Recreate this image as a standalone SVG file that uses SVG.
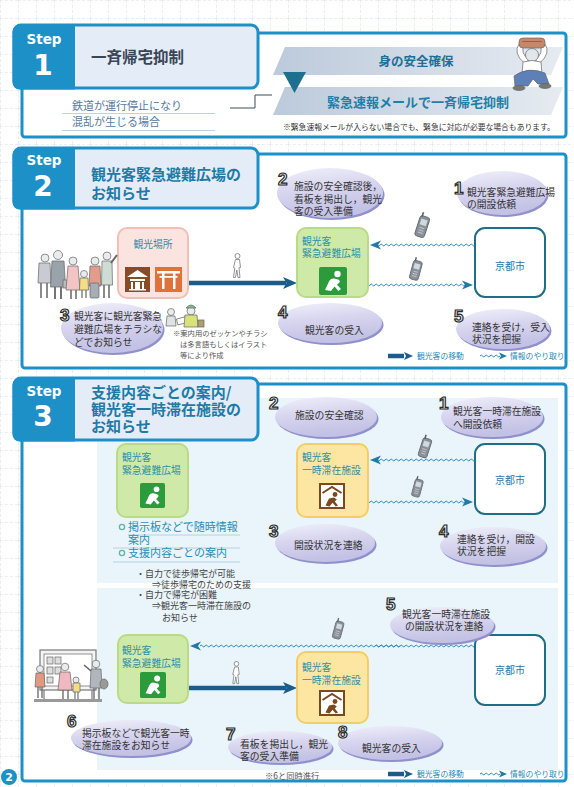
<svg xmlns="http://www.w3.org/2000/svg" xmlns:xlink="http://www.w3.org/1999/xlink" width="574" height="787" viewBox="0 0 574 787">
<defs>
<style>
.ttl{font-family:"Noto Sans CJK JP","Noto Sans",sans-serif;font-weight:bold;font-size:15px;fill:#1f7aa6}
.bt{font-family:"Noto Sans CJK JP",sans-serif;font-size:9.8px;fill:#333}
.num{font-family:"Liberation Sans",Arial,sans-serif;font-weight:bold;font-size:17px;fill:#f4f4f4;stroke:#2a2a2a;stroke-width:1.2px}
.stepw{font-family:"DejaVu Sans",sans-serif;font-weight:bold;fill:#fff}
.panel{fill:#fff;stroke:#1e90c8;stroke-width:3}
.hdr{fill:#e4edf7;stroke:#1e90c8;stroke-width:3}
.hdk{fill:#1e90c8}
.boxt{font-family:"Noto Sans CJK JP",sans-serif;font-size:9.8px;fill:#2a8fa8}
.kyoto{fill:#fff;stroke:#1e6e88;stroke-width:2}
.kyt{font-family:"Noto Sans CJK JP",sans-serif;font-size:10px;fill:#1f7aa6;text-anchor:middle}
.green{fill:#cfe9a8;stroke:#b9db84;stroke-width:2}
.yellow{fill:#fde6a2;stroke:#f4cd6a;stroke-width:2}
.wave{fill:none;stroke:#2a8ab8;stroke-width:1}
.whd{fill:#1f7aa6}
.move{stroke:#1a5c8c;stroke-width:4.5;fill:none}
.mhd{fill:#1a5c8c}
.bsh{fill:#9090cc}
.bub{fill:url(#bubG)}
.leg{font-family:"Noto Sans CJK JP",sans-serif;font-size:7.8px;fill:#2a8ab8}
.small{font-family:"Noto Sans CJK JP",sans-serif;font-size:9px;fill:#444}
.note{font-family:"Noto Sans CJK JP",sans-serif;font-size:7.3px;fill:#555}
.list{font-family:"Noto Sans CJK JP",sans-serif;font-size:11px;fill:#2a8fb5}
.ul{stroke:#a9c9da;stroke-width:0.8}
.lb{fill:#e9f4fb}
.ill{stroke:#666;stroke-width:0.7}
</style>
<pattern id="grid" width="18" height="18" patternUnits="userSpaceOnUse">
<path d="M0,0.5 H18 M0.5,0 V18" stroke="#e3e7ec" stroke-width="0.7" stroke-dasharray="3,2" fill="none"/>
</pattern>
<linearGradient id="bubG" x1="0" y1="0" x2="0.25" y2="1">
<stop offset="0" stop-color="#f1f0fa"/>
<stop offset="0.5" stop-color="#d6d4ee"/>
<stop offset="1" stop-color="#c3c1e4"/>
</linearGradient>
<linearGradient id="banG" x1="0" y1="0" x2="1" y2="0">
<stop offset="0" stop-color="#bccadb"/>
<stop offset="1" stop-color="#e6ebf1"/>
</linearGradient>
<!-- 100px wavy line used for information exchange -->
<path id="wave" class="wave" d="M0,0 q1.25,-1.8 2.5,0 t2.5,0 t2.5,0 t2.5,0 t2.5,0 t2.5,0 t2.5,0 t2.5,0 t2.5,0 t2.5,0 t2.5,0 t2.5,0 t2.5,0 t2.5,0 t2.5,0 t2.5,0 t2.5,0 t2.5,0 t2.5,0 t2.5,0 t2.5,0 t2.5,0 t2.5,0 t2.5,0 t2.5,0 t2.5,0 t2.5,0 t2.5,0 t2.5,0 t2.5,0 t2.5,0 t2.5,0 t2.5,0 t2.5,0 t2.5,0 t2.5,0 t2.5,0 t2.5,0 t2.5,0 t2.5,0"/>
<path id="wave20" class="wave" d="M0,0 q1.25,-1.8 2.5,0 t2.5,0 t2.5,0 t2.5,0 t2.5,0 t2.5,0 t2.5,0 t2.5,0"/>
<!-- arrowheads: wavy points left at origin, move points right at origin -->
<path id="whead" class="whd" d="M0,0 L11,-4.5 L8,0 L11,4.5 Z"/>
<path id="mhead" class="mhd" d="M0,0 L-14,-6 L-10.5,0 L-14,6 Z"/>
<symbol id="sit" viewBox="0 0 28 28">
<rect width="28" height="28" rx="2" fill="#2c9b3c"/>
<circle cx="18.5" cy="7" r="3.2" fill="#fff"/>
<path d="M6,23 L10.5,13.5 Q12,11 15,11.5 L19,12.5 Q21.5,13.5 20.5,15.5 L18,17.8 L22,22 L19.5,24 L15.5,19.5 L12,24 Z" fill="#fff"/>
</symbol>
<symbol id="shelter" viewBox="0 0 26 26">
<rect x="1" y="1" width="24" height="24" fill="#fff" stroke="#7a4a1e" stroke-width="2"/>
<path d="M3.5,10 L13,4 L22.5,10" stroke="#7a4a1e" stroke-width="2" fill="none"/>
<circle cx="16" cy="11.5" r="2.4" fill="#7a4a1e"/>
<path d="M6.5,22.5 L10,15.5 L15,14.5 L17.8,16.5 L15.8,18.5 L19,22.5 L16.8,23.5 L13.5,19.8 L10.5,23.5 Z" fill="#7a4a1e"/>
</symbol>
<symbol id="phone" viewBox="0 0 12 26">
<rect x="1" y="4" width="10" height="21" rx="2.5" fill="#8a9098" stroke="#5a5f66" stroke-width="0.8"/>
<rect x="2.8" y="7" width="6.4" height="6" fill="#cfd9e0"/>
<rect x="2" y="0.5" width="1.6" height="4.5" fill="#5a5f66"/>
<path d="M3.5,16 h5 M3.5,18.5 h5 M3.5,21 h5" stroke="#c0c5ca" stroke-width="1"/>
</symbol>
<symbol id="walker" viewBox="0 0 12 26">
<circle cx="6.5" cy="3" r="2.5" fill="#fff" stroke="#777" stroke-width="0.8"/>
<path d="M4.5,6.5 L8.5,6.5 L9.5,14.5 L8,14.8 L9,24.5 L7,24.5 L5.8,17 L4.5,24.5 L2.5,24.5 L3.8,15 L2.5,14.5 Z" fill="#fff" stroke="#777" stroke-width="0.8"/>
</symbol>
</defs>

<!-- page background with faint grid -->
<rect width="574" height="787" fill="#fff"/>
<rect width="574" height="787" fill="url(#grid)"/>

<!-- ================= STEP 1 ================= -->
<g id="step1">
<rect class="panel" x="22" y="33" width="544" height="104" rx="3"/>
<g id="step1-header">
<rect class="hdr" x="14" y="25" width="244" height="63" rx="7"/>
<path class="hdk" d="M12.5,32 a7,7 0 0 1 7,-7 H75 V89.5 H19.5 a7,7 0 0 1 -7,-7 Z"/>
<text class="stepw" x="44" y="44" font-size="13.5" text-anchor="middle">Step</text>
<text class="stepw" x="43" y="75" font-size="28" text-anchor="middle">1</text>
<text x="91" y="63" font-family="Noto Sans CJK JP, sans-serif" font-weight="bold" font-size="15.5" fill="#3a4656">一斉帰宅抑制</text>
</g>
<g id="step1-condition">
<text x="72" y="110" font-family="Noto Sans CJK JP, sans-serif" font-size="11" fill="#557aa0">鉄道が運行停止になり</text>
<text x="72" y="126" font-family="Noto Sans CJK JP, sans-serif" font-size="11" fill="#557aa0">混乱が生じる場合</text>
<line class="ul" x1="62" y1="113.5" x2="215" y2="113.5"/>
<line class="ul" x1="62" y1="130.5" x2="215" y2="130.5"/>
</g>
<g id="step1-safety">
<polygon points="285,47 563,47 551,75 273,75" fill="url(#banG)"/>
<text x="416" y="66" text-anchor="middle" font-family="Noto Sans CJK JP, sans-serif" font-weight="bold" font-size="12.5" fill="#1f6f96">身の安全確保</text>
</g>
<g id="step1-mail">
<polygon points="285,87 563,87 551,115 273,115" fill="url(#banG)"/>
<text x="418" y="107" text-anchor="middle" font-family="Noto Sans CJK JP, sans-serif" font-weight="bold" font-size="13" fill="#1f7fa8">緊急速報メールで一斉帰宅抑制</text>
</g>
<polygon id="step1-down" points="283,72 306,72 294.5,93" fill="#1d6f8e"/>
<text x="283" y="130" font-family="Noto Sans CJK JP, sans-serif" font-size="7.8" fill="#333">※緊急速報メールが入らない場合でも、緊急に対応が必要な場合もあります。</text>
<!-- crouching person protecting head -->
<g id="step1-person" class="ill">
<path d="M524,63 Q513,53 519,44 L524,45 Q520,53 529,60 Z" fill="#fff"/>
<path d="M540,63 Q551,53 545,44 L540,45 Q544,53 535,60 Z" fill="#fff"/>
<rect x="519" y="38" width="26" height="10" rx="4" fill="#c9876a"/>
<path d="M522,41.5 h20" stroke="#8a4a3a"/>
<circle cx="532" cy="55" r="6.5" fill="#e2e7ec"/>
<path d="M523,62 Q532,59 541,62 L542,74 L522,74 Z" fill="#fff"/>
<path d="M514,76 Q528,66 545,73 L549,84 L538,84 L533,79 L528,86 L515,86 Z" fill="#5d80b8"/>
<ellipse cx="519" cy="88" rx="6" ry="2.5" fill="#777"/>
<ellipse cx="545" cy="86" rx="6" ry="2.5" fill="#777"/>
</g>
</g>
<g id="step1-link">
<polyline points="230,108 255,108 255,95 272,95" fill="none" stroke="#3a4a5a" stroke-width="1"/>
</g>

<!-- ================= STEP 2 ================= -->
<g id="step2">
<rect class="panel" x="22" y="154" width="544" height="214" rx="3"/>
<g id="step2-header">
<rect class="hdr" x="14" y="148" width="244" height="60" rx="7"/>
<path class="hdk" d="M12.5,155 a7,7 0 0 1 7,-7 H75 V209.5 H19.5 a7,7 0 0 1 -7,-7 Z"/>
<text class="stepw" x="44" y="165" font-size="13.5" text-anchor="middle">Step</text>
<text class="stepw" x="43" y="196" font-size="28" text-anchor="middle">2</text>
<text class="ttl" x="91" y="180">観光客緊急避難広場の</text>
<text class="ttl" x="91" y="199">お知らせ</text>
</g>
</g>

<!-- step 2 connectors -->
<g id="step2-connectors">
<line class="move" x1="188" y1="283" x2="286" y2="283"/>
<use href="#mhead" x="297" y="283"/>
<use href="#wave" x="375" y="245"/>
<use href="#whead" x="370" y="245"/>
<use href="#wave" x="365" y="285"/>
<use href="#whead" transform="translate(473,285) rotate(180)"/>
</g>

<g id="step2-tourist-spot">
<rect x="118" y="228" width="70" height="70" rx="9" fill="#fbe3df" stroke="#f2bfb6" stroke-width="2"/>
<text class="boxt" x="153" y="248" text-anchor="middle" fill="#4a8ab8">観光場所</text>
<rect x="125" y="267" width="25" height="25" fill="#8b4a26"/>
<path d="M127,277 L137.5,270 L148,277 Z M130,279 h15 v2 h-15 Z M131,282 h2 v7 h-2 Z M142,282 h2 v7 h-2 Z M129,289 h17 v1.5 h-17 Z M135,282 h5 v7 h-5 Z" fill="#fff"/>
<rect x="155" y="267" width="27" height="25" fill="#e0713a"/>
<path d="M157,271 h23 v2.5 h-23 Z M159.5,276 h18 v1.8 h-18 Z M162,273 h2.5 v16 h-2.5 Z M173,273 h2.5 v16 h-2.5 Z" fill="#fff"/>
</g>
<g id="step2-refuge">
<rect class="green" x="297" y="228" width="71" height="69" rx="9"/>
<text class="boxt" x="302" y="245">観光客</text>
<text class="boxt" x="302" y="257">緊急避難広場</text>
<use href="#sit" x="319" y="267" width="28" height="28"/>
</g>
<g id="step2-kyoto">
<rect class="kyoto" x="475" y="228" width="70" height="69" rx="10"/>
<text class="kyt" x="510" y="270">京都市</text>
</g>

<g id="step2-b2">
<ellipse class="bsh" cx="331.5" cy="195" rx="53" ry="25"/>
<ellipse class="bub" cx="330" cy="193" rx="53" ry="25"/>
<text class="num" x="278" y="185">2</text>
<text class="bt" x="294" y="190">施設の安全確認後，</text>
<text class="bt" x="294" y="202.5">看板を掲出し，観光</text>
<text class="bt" x="294" y="215">客の受入準備</text>
</g>
<g id="step2-b1">
<ellipse class="bsh" cx="503.5" cy="195" rx="45" ry="22"/>
<ellipse class="bub" cx="502" cy="193" rx="45" ry="22"/>
<text class="num" x="454" y="194">1</text>
<text class="bt" x="467" y="196" font-size="9">観光客緊急避難広場</text>
<text class="bt" x="467" y="208" font-size="9">の開設依頼</text>
</g>
<g id="step2-b3">
<ellipse class="bsh" cx="113.5" cy="330" rx="51" ry="25"/>
<ellipse class="bub" cx="112" cy="328" rx="51" ry="25"/>
<text class="num" x="60" y="321">3</text>
<text class="bt" x="74" y="320">観光客に観光客緊急</text>
<text class="bt" x="74" y="333">避難広場をチラシな</text>
<text class="bt" x="74" y="346">どでお知らせ</text>
</g>
<g id="step2-b4">
<ellipse class="bsh" cx="331.5" cy="325" rx="52" ry="20"/>
<ellipse class="bub" cx="330" cy="323" rx="52" ry="20"/>
<text class="num" x="278" y="318">4</text>
<text class="bt" x="305" y="334">観光客の受入</text>
</g>
<g id="step2-b5">
<ellipse class="bsh" cx="504.5" cy="331" rx="47" ry="20"/>
<ellipse class="bub" cx="503" cy="329" rx="47" ry="20"/>
<text class="num" x="454" y="322">5</text>
<text class="bt" x="472" y="331" font-size="10">連絡を受け，受入</text>
<text class="bt" x="472" y="343" font-size="10">状況を把握</text>
</g>

<g id="step2-note">
<text class="note" x="173" y="336">※案内用のゼッケンやチラシ</text>
<text class="note" x="180" y="347">は多言語もしくはイラスト</text>
<text class="note" x="180" y="358">等により作成</text>
</g>

<!-- step 2 illustrations -->
<g id="step2-phones">
<use href="#phone" transform="translate(421,211) rotate(18)" width="12" height="26"/>
<use href="#phone" transform="translate(414,256) rotate(15)" width="11" height="24"/>
</g>
<use href="#walker" x="231" y="253" width="12" height="26"/>
<g id="step2-crowd" class="ill">
<circle cx="45" cy="258" r="4" fill="#e8ecef"/>
<path d="M39,263 h11 l1,20 h-13 Z" fill="#c8ccd2"/>
<path d="M41,283 v15 M47,283 v15" stroke="#666" stroke-width="1.5"/>
<circle cx="58" cy="255" r="4.5" fill="#e8ecef"/>
<path d="M52,261 h12 l1.5,26 h-15 Z" fill="#9aa2ac"/>
<path d="M55,287 v12 M61,287 v12" stroke="#666" stroke-width="1.8"/>
<rect x="63" y="280" width="6" height="8" fill="#bbb"/>
<circle cx="73" cy="261" r="4" fill="#e8ecef"/>
<path d="M68,266 h10 l2,24 h-14 Z" fill="#f2c4c4"/>
<path d="M71,290 v9 M76,290 v9" stroke="#666" stroke-width="1.5"/>
<circle cx="84" cy="274" r="3.5" fill="#e8ecef"/>
<path d="M80,278 h8 l0.5,12 h-9 Z" fill="#f3dd86"/>
<path d="M82,290 v8 M86,290 v8" stroke="#666" stroke-width="1.2"/>
<circle cx="95" cy="261" r="4" fill="#e8ecef"/>
<path d="M90,266 h10 l1,20 h-12 Z" fill="#e39c8c"/>
<rect x="90" y="283" width="9" height="15" rx="1.5" fill="#a7adb5"/>
<circle cx="107" cy="256" r="4" fill="#e8ecef"/>
<path d="M102,261 h10 l0.5,24 h-11 Z" fill="#cfdcd4"/>
<path d="M111,263 l6,-8" stroke="#666" stroke-width="2"/>
<path d="M104,285 v13 M109,285 v13" stroke="#666" stroke-width="1.5"/>
</g>
<g id="step2-flyer" class="ill">
<circle cx="171" cy="312" r="3.5" fill="#e8ecef"/>
<path d="M167,316 h8 l1,10 h-10 Z" fill="#dfe3e6"/>
<rect x="177" y="318" width="9" height="6" fill="#fff" transform="rotate(-15 181 321)"/>
<circle cx="191" cy="311" r="4" fill="#e8ecef"/>
<path d="M186,308 q5,-6 10,0 Z" fill="#7cc08a"/>
<path d="M185,315 h12 l1,12 h-14 Z" fill="#d8e27a"/>
<rect x="198" y="320" width="6" height="7" fill="#b0a070"/>
</g>

<g id="step2-legend">
<line class="move" x1="388" y1="356" x2="404" y2="356" stroke-width="3"/>
<path class="mhd" d="M413,356 L404,352 L406,356 L404,360 Z"/>
<text class="leg" x="417" y="359">観光客の移動</text>
<use href="#wave20" x="480" y="356"/>
<path class="whd" d="M507,356 L499,352.5 L501,356 L499,359.5 Z"/>
<text class="leg" x="510" y="359">情報のやり取り</text>
</g>

<!-- ================= STEP 3 ================= -->
<g id="step3">
<rect class="panel" x="22" y="384" width="544" height="397" rx="3"/>
<rect class="lb" x="97" y="398" width="461" height="185"/>
<rect class="lb" x="97" y="588" width="461" height="182"/>
<g id="step3-header">
<rect class="hdr" x="14" y="378" width="244" height="62" rx="7"/>
<path class="hdk" d="M12.5,385 a7,7 0 0 1 7,-7 H75 V441.5 H19.5 a7,7 0 0 1 -7,-7 Z"/>
<text class="stepw" x="44" y="396" font-size="13.5" text-anchor="middle">Step</text>
<text class="stepw" x="43" y="426" font-size="28" text-anchor="middle">3</text>
<text class="ttl" x="91" y="398">支援内容ごとの案内/</text>
<text class="ttl" x="91" y="415">観光客一時滞在施設の</text>
<text class="ttl" x="91" y="432">お知らせ</text>
</g>
</g>

<!-- step 3 connectors -->
<g id="step3-connectors">
<use href="#wave" x="375" y="460"/>
<use href="#whead" x="370" y="460"/>
<use href="#wave" x="365" y="502"/>
<use href="#whead" transform="translate(473,502) rotate(180)"/>
<use href="#wave" x="200" y="646"/>
<use href="#wave" x="300" y="646"/>
<use href="#wave" x="375" y="646"/>
<use href="#whead" x="190" y="646"/>
<line class="move" x1="188" y1="688" x2="286" y2="688"/>
<use href="#mhead" x="297" y="688"/>
</g>

<g id="step3-refuge">
<rect class="green" x="117" y="444" width="71" height="73" rx="9"/>
<text class="boxt" x="122" y="461">観光客</text>
<text class="boxt" x="122" y="474">緊急避難広場</text>
<use href="#sit" x="140" y="483" width="25" height="25"/>
</g>
<g id="step3-guidance">
<circle cx="122" cy="527" r="2.6" fill="none" stroke="#66b0a0" stroke-width="1.3"/>
<text class="list" x="128" y="531">掲示板などで随時情報</text>
<line class="ul" x1="128" y1="535" x2="240" y2="535"/>
<text class="list" x="128" y="544">案内</text>
<line class="ul" x1="113" y1="548" x2="240" y2="548"/>
<circle cx="122" cy="553" r="2.6" fill="none" stroke="#66b0a0" stroke-width="1.3"/>
<text class="list" x="128" y="557">支援内容ごとの案内</text>
<line class="ul" x1="113" y1="562" x2="240" y2="562"/>
<text class="small" x="136" y="577">・自力で徒歩帰宅が可能</text>
<text class="small" x="152" y="588">⇒徒歩帰宅のための支援</text>
<text class="small" x="136" y="598">・自力で帰宅が困難</text>
<text class="small" x="152" y="609">⇒観光客一時滞在施設の</text>
<text class="small" x="162" y="621">お知らせ</text>
</g>
<g id="step3-shelter">
<rect class="yellow" x="297" y="444" width="71" height="73" rx="9"/>
<text class="boxt" x="302" y="461">観光客</text>
<text class="boxt" x="302" y="474">一時滞在施設</text>
<use href="#shelter" x="319" y="483" width="26" height="26"/>
</g>
<g id="step3-kyoto">
<rect class="kyoto" x="475" y="444" width="70" height="70" rx="10"/>
<text class="kyt" x="510" y="484">京都市</text>
</g>
<g id="step3-b2">
<ellipse class="bsh" cx="327.5" cy="419" rx="51" ry="20"/>
<ellipse class="bub" cx="326" cy="417" rx="51" ry="20"/>
<text class="num" x="269" y="409">2</text>
<text class="bt" x="295" y="419">施設の安全確認</text>
</g>
<g id="step3-b1">
<ellipse class="bsh" cx="493.5" cy="419" rx="51" ry="20"/>
<ellipse class="bub" cx="492" cy="417" rx="51" ry="20"/>
<text class="num" x="439" y="409">1</text>
<text class="bt" x="453" y="415" font-size="10">観光客一時滞在施設</text>
<text class="bt" x="453" y="428" font-size="10">へ開設依頼</text>
</g>
<g id="step3-b3">
<ellipse class="bsh" cx="326.5" cy="545" rx="50" ry="19"/>
<ellipse class="bub" cx="325" cy="543" rx="50" ry="19"/>
<text class="num" x="269" y="537">3</text>
<text class="bt" x="294" y="549">開設状況を連絡</text>
</g>
<g id="step3-b4">
<ellipse class="bsh" cx="494.5" cy="548" rx="53" ry="19"/>
<ellipse class="bub" cx="493" cy="546" rx="53" ry="19"/>
<text class="num" x="439" y="537">4</text>
<text class="bt" x="457" y="543" font-size="10.3">連絡を受け，開設</text>
<text class="bt" x="457" y="555" font-size="10.3">状況を把握</text>
</g>
<g id="step3-phones">
<use href="#phone" transform="translate(424,433) rotate(18)" width="11" height="25"/>
<use href="#phone" transform="translate(416,474) rotate(15)" width="10" height="24"/>
<use href="#phone" transform="translate(337,615) rotate(15)" width="10" height="26"/>
</g>

<!-- lower part of step 3 -->
<g id="step3-refuge-2">
<rect class="green" x="118" y="635" width="70" height="68" rx="9"/>
<text class="boxt" x="122" y="654">観光客</text>
<text class="boxt" x="122" y="667">緊急避難広場</text>
<use href="#sit" x="140" y="672" width="26" height="26"/>
</g>
<g id="step3-shelter-2">
<rect class="yellow" x="297" y="652" width="71" height="71" rx="9"/>
<text class="boxt" x="302" y="671">観光客</text>
<text class="boxt" x="302" y="684">一時滞在施設</text>
<use href="#shelter" x="319" y="690" width="26" height="26"/>
</g>
<g id="step3-kyoto-2">
<rect class="kyoto" x="475" y="635" width="70" height="70" rx="10"/>
<text class="kyt" x="510" y="674">京都市</text>
</g>
<use href="#walker" x="230" y="661" width="12" height="24"/>
<g id="step3-b5">
<ellipse class="bsh" cx="443.5" cy="627" rx="52" ry="18"/>
<ellipse class="bub" cx="442" cy="625" rx="52" ry="18"/>
<text class="num" x="386" y="610">5</text>
<text class="bt" x="402" y="618" font-size="9.6">観光客一時滞在施設</text>
<text class="bt" x="405" y="630" font-size="9.6">の開設状況を連絡</text>
</g>
<g id="step3-b6">
<ellipse class="bsh" cx="132.5" cy="740" rx="60" ry="18"/>
<ellipse class="bub" cx="131" cy="738" rx="60" ry="18"/>
<text class="num" x="67" y="727">6</text>
<text class="bt" x="82" y="737" font-size="10">掲示板などで観光客一時</text>
<text class="bt" x="82" y="749" font-size="10">滞在施設をお知らせ</text>
</g>
<g id="step3-b7">
<ellipse class="bsh" cx="281.5" cy="749" rx="52" ry="16"/>
<ellipse class="bub" cx="280" cy="747" rx="52" ry="16"/>
<text class="num" x="226" y="740">7</text>
<text class="bt" x="240" y="748">看板を掲出し，観光</text>
<text class="bt" x="240" y="760">客の受入準備</text>
</g>
<g id="step3-b8">
<ellipse class="bsh" cx="391.5" cy="745" rx="52" ry="17"/>
<ellipse class="bub" cx="390" cy="743" rx="52" ry="17"/>
<text class="num" x="338" y="738">8</text>
<text class="bt" x="362" y="752" font-size="9.5">観光客の受入</text>
</g>
<text x="265" y="779" font-family="Noto Sans CJK JP, sans-serif" font-size="8.3" fill="#555">※6と同時進行</text>

<!-- notice board with visitors -->
<g id="step3-board" class="ill">
<rect x="40" y="650" width="56" height="40" fill="#f4f4f4" stroke="#777" stroke-width="1.2"/>
<rect x="44" y="654" width="48" height="32" fill="#fff"/>
<rect x="47" y="657" width="6" height="7" fill="#ddd"/>
<rect x="55" y="657" width="6" height="7" fill="#ddd"/>
<rect x="47" y="667" width="6" height="7" fill="#ddd"/>
<rect x="55" y="667" width="6" height="7" fill="#ddd"/>
<rect x="47" y="677" width="6" height="6" fill="#ddd"/>
<path d="M44,690 v10 M92,690 v10" stroke="#777" stroke-width="1.2"/>
<rect x="34" y="699" width="68" height="3" fill="#999" stroke="none"/>
<circle cx="40" cy="669" r="3.5" fill="#e8ecef"/>
<path d="M36,673 h8 l1,14 h-10 Z" fill="#e09a80"/>
<path d="M38,687 v11 M42,687 v11" stroke="#666" stroke-width="1.3"/>
<circle cx="65" cy="667" r="3.8" fill="#e8ecef"/>
<path d="M60,672 h10 l2,18 h-14 Z" fill="#f0b8c0"/>
<path d="M63,690 v9 M68,690 v9" stroke="#666" stroke-width="1.3"/>
<circle cx="76" cy="680" r="3" fill="#e8ecef"/>
<path d="M73,683 h7 v9 h-7 Z" fill="#f3dd86"/>
<path d="M75,692 v7 M78,692 v7" stroke="#666" stroke-width="1.1"/>
<circle cx="96" cy="664" r="3.8" fill="#e8ecef"/>
<path d="M91,669 h10 l1,19 h-12 Z" fill="#b0b6bc"/>
<path d="M91,671 l-7,-6" stroke="#666" stroke-width="1.6"/>
<ellipse cx="104" cy="684" rx="4" ry="5" fill="#999"/>
<path d="M94,688 v11 M99,688 v11" stroke="#666" stroke-width="1.3"/>
</g>

<g id="step3-legend">
<line class="move" x1="388" y1="774" x2="404" y2="774" stroke-width="3"/>
<path class="mhd" d="M413,774 L404,770 L406,774 L404,778 Z"/>
<text class="leg" x="417" y="777">観光客の移動</text>
<use href="#wave20" x="480" y="774"/>
<path class="whd" d="M507,774 L499,770.5 L501,774 L499,777.5 Z"/>
<text class="leg" x="510" y="777">情報のやり取り</text>
</g>

<!-- page number -->
<g id="page-number">
<circle cx="9" cy="777" r="8" fill="#1e90c8"/>
<text x="9" y="781" text-anchor="middle" font-family="DejaVu Sans, sans-serif" font-weight="bold" font-size="11" fill="#fff">2</text>
</g>
</svg>
